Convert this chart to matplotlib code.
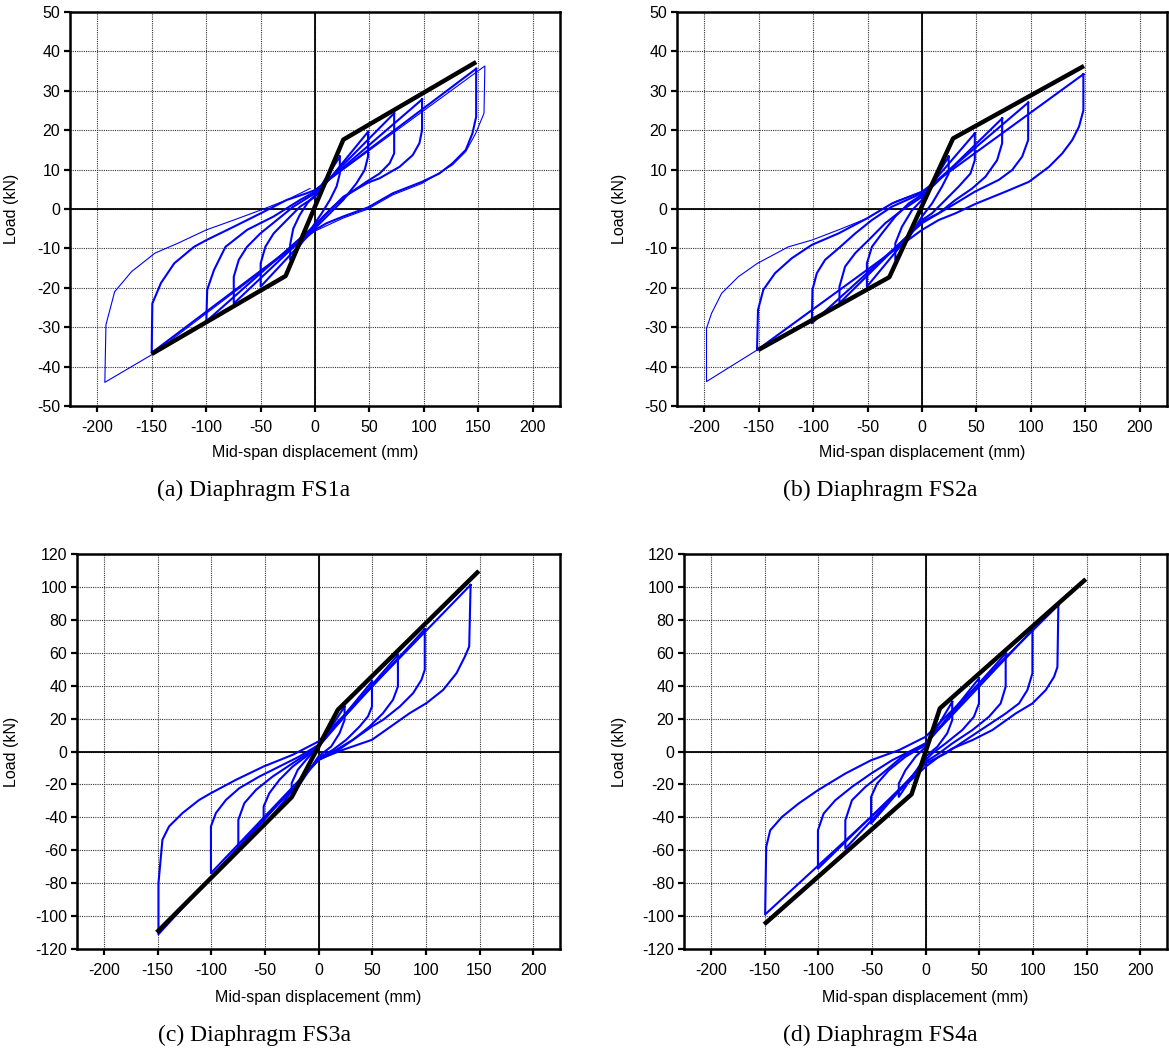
import matplotlib
matplotlib.use("Agg")
import matplotlib.pyplot as plt

plt.rcParams['font.family'] = ['Liberation Sans', 'DejaVu Sans']
plt.rcParams['axes.unicode_minus'] = False

FIG_W, FIG_H = 1169, 1054
DISP_TICKS = [-200, -150, -100, -50, 0, 50, 100, 150, 200]

# ---- (a) FS1a ----
fs1a_backbone_x = [-150, -27, 26, 148]
fs1a_backbone_y = [-36.8, -17.0, 17.6, 37.3]
fs1a_loops = [
    [(148, 35.6), (148, 23.4), (144.6, 19.2), (138.5, 15.0), (126.3, 11.6), (114.1, 9.0), (98.3, 6.9),
     (71.5, 4.0), (48.7, 0.4), (25.9, -1.9), (10.7, -3.6), (0, -5.3),
     (-150, -36.5), (-149.4, -24.0), (-141.5, -18.8), (-129.3, -13.8), (-111.1, -9.6), (-99.8, -7.9),
     (-74.6, -4.5), (-49.9, -1.1), (-25.9, 2.3), (-7.6, 4.0), (0, 4.8), (148, 35.6)],
    [(98.3, 27.8), (98.3, 20.0), (95.9, 16.7), (89.8, 13.7), (77.6, 10.7), (59.3, 7.8), (48.7, 6.7),
     (25.9, 3.1), (13.7, -0.3), (4.6, -2.8), (0, -4.1),
     (-99.8, -28.5), (-99.0, -20.5), (-92.8, -15.5), (-82.2, -9.6), (-62.4, -5.3), (-38.0, -1.9),
     (-13.7, 2.3), (0, 4.4), (98.3, 27.8)],
    [(72.7, 24.3), (72.7, 14.1), (68.5, 11.6), (59.3, 9.0), (47.2, 6.9), (32.0, 4.0), (16.7, 0.6),
     (7.6, -1.9), (0, -4.5),
     (-74.6, -24.0), (-74.6, -17.2), (-70.0, -12.9), (-62.4, -9.6), (-50.2, -6.2), (-35.0, -2.8),
     (-19.8, 0.6), (-7.6, 2.7), (0, 4.0), (72.7, 24.3)],
    [(48.7, 19.6), (48.7, 13.3), (45.6, 9.9), (38.0, 6.5), (25.9, 2.3), (13.7, -1.1), (4.6, -3.6), (0, -4.9),
     (-49.9, -19.7), (-49.9, -13.8), (-45.6, -9.6), (-38.0, -6.2), (-25.9, -2.8), (-13.7, 0.6), (0, 3.1),
     (48.7, 19.6)],
    [(22.8, 13.3), (22.8, 9.0), (19.8, 5.7), (13.7, 2.3), (6.1, -1.1), (0, -3.6),
     (-22.8, -12.9), (-22.8, -9.0), (-20.0, -5.0), (-14.0, -1.5), (-7.0, 1.5), (0, 3.5), (22.8, 13.3)],
]
fs1a_excursion = [(0, 4.8), (156, 36.3), (155.2, 24.3), (147.6, 19.2), (138.5, 14.6), (126.3, 11.2),
                  (98.3, 6.5), (71.5, 3.6), (48.7, 0.0), (25.9, -2.3), (0, -5.6), (-150, -37.0),
                  (-193, -44.0), (-192, -29.4), (-184, -21.0), (-168.5, -15.9), (-147, -11.2),
                  (-126, -8.7), (-99.8, -5.3), (-74.6, -2.8), (-50.2, -0.3), (-25.9, 2.3), (-4.6, 5.2)]

# ---- (b) FS2a ----
fs2a_backbone_x = [-150.5, -30, 28.5, 148.8]
fs2a_backbone_y = [-35.8, -17.3, 17.9, 36.3]
fs2a_loops = [
    [(148.2, 34.2), (148.2, 25.0), (144.2, 20.9), (138.0, 17.5), (128.8, 14.1), (116.6, 10.7), (98.2, 6.9),
     (76.7, 4.4), (49.1, 1.3), (30.7, -1.1), (15.3, -2.8), (0, -5.3),
     (-151.5, -35.8), (-150.6, -25.6), (-145.7, -20.5), (-135.0, -16.3), (-119.6, -12.5), (-101.2, -9.1),
     (-76.7, -6.2), (-50.6, -2.4), (-27.6, 1.4), (0, 4.4), (148.2, 34.2)],
    [(97.5, 27.0), (97.5, 17.5), (92.0, 13.3), (82.8, 9.9), (70.6, 7.4), (48.5, 4.4), (30.7, 1.4),
     (15.3, -1.1), (0, -3.6),
     (-101.2, -29.0), (-100.6, -20.5), (-96.6, -16.3), (-89.0, -12.9), (-76.7, -10.0), (-61.3, -6.2),
     (-46.0, -2.8), (-27.6, 0.6), (0, 4.0), (97.5, 27.0)],
    [(73.6, 23.0), (73.6, 16.7), (69.0, 12.4), (58.3, 8.2), (46.0, 5.2), (30.7, 2.3), (15.3, -1.1), (0, -3.2),
     (-75.8, -23.9), (-75.8, -19.7), (-70.6, -14.6), (-61.3, -11.2), (-49.1, -7.9), (-33.7, -3.6),
     (-18.4, -0.3), (0, 3.1), (73.6, 23.0)],
    [(48.5, 19.2), (48.5, 12.4), (44.5, 9.0), (33.7, 5.7), (21.5, 2.3), (9.2, -1.1), (0, -2.8),
     (-50.6, -19.7), (-50.6, -13.8), (-46.0, -9.6), (-36.8, -6.2), (-24.5, -1.9), (-12.3, 1.4), (0, 3.6),
     (48.5, 19.2)],
    [(24.5, 13.3), (24.5, 9.0), (18.4, 5.7), (9.2, 1.4), (0, -1.9),
     (-24.5, -12.9), (-24.5, -8.7), (-18.4, -4.5), (-9.2, -0.3), (0, 2.3), (24.5, 13.3)],
]
fs2a_excursion = [(-151.5, -35.8), (-197.9, -43.8), (-197.9, -30.3), (-193.3, -26.5), (-184.0, -21.4),
                  (-168.7, -17.2), (-151.2, -13.8), (-122.7, -9.6), (-101.2, -7.9), (-76.7, -5.3),
                  (-50.6, -2.4), (-24.5, 1.9), (0, 4.4)]

# ---- (c) FS3a ----
fs3a_backbone_x = [-150.7, -24.9, 18.0, 149.4]
fs3a_backbone_y = [-109.9, -27.7, 25.3, 109.7]
fs3a_loops = [
    [(141.7, 101.2), (140.4, 63.8), (136.4, 57.7), (128.6, 47.6), (116.1, 37.4), (100.6, 29.4), (85.0, 23.3),
     (49.8, 7.1), (22.7, 1.0), (7.2, -3.0), (0, -5.1),
     (-149.1, -111.0), (-149.1, -80.0), (-145.4, -53.6), (-139.2, -45.5), (-126.7, -37.4), (-111.1, -29.4),
     (-100.2, -25.3), (-76.9, -17.2), (-51.1, -9.1), (-24.0, -2.0), (0, 6.1), (141.7, 101.2)],
    [(99.0, 74.3), (99.0, 49.6), (95.9, 43.5), (88.1, 35.4), (75.7, 27.3), (60.1, 19.2), (49.8, 15.2),
     (32.1, 7.1), (16.5, 1.0), (0, -5.1),
     (-100.2, -73.9), (-100.2, -45.5), (-95.6, -37.4), (-86.2, -29.4), (-73.8, -22.3), (-55.1, -15.2),
     (-36.4, -9.1), (-17.7, -3.0), (0, 4.0), (99.0, 74.3)],
    [(74.0, 58.7), (74.0, 39.5), (69.4, 31.4), (60.1, 23.3), (47.6, 15.2), (32.1, 7.1), (16.5, 0.0), (0, -5.1),
     (-74.7, -58.7), (-74.7, -41.5), (-69.1, -31.4), (-58.2, -23.3), (-42.7, -15.2), (-24.0, -7.1), (0, 3.0),
     (74.0, 58.7)],
    [(49.8, 42.5), (49.8, 27.3), (46.1, 21.3), (38.3, 15.2), (25.8, 7.1), (13.4, 1.0), (0, -4.0),
     (-51.1, -45.5), (-51.1, -33.4), (-45.8, -25.3), (-36.4, -17.2), (-24.0, -9.1), (-11.5, -3.0), (0, 3.0),
     (49.8, 42.5)],
    [(24.3, 27.3), (24.3, 19.2), (19.6, 11.1), (11.8, 3.0), (0, -3.0),
     (-25.0, -27.3), (-25.0, -19.2), (-19.3, -11.1), (-11.5, -5.0), (0, 3.0), (24.3, 27.3)],
]

# ---- (d) FS4a ----
fs4a_backbone_x = [-150.3, -13.0, 13.4, 149.3]
fs4a_backbone_y = [-105.0, -26.0, 26.2, 104.7]
fs4a_loops = [
    [(123.8, 89.0), (122.9, 51.3), (119.8, 45.4), (112.0, 37.3), (99.6, 29.2), (84.0, 23.1), (62.2, 13.0),
     (43.6, 6.9), (24.9, 1.8), (12.4, -3.2), (0, -9.3),
     (-149.4, -99.0), (-148.4, -58.0), (-144.7, -47.9), (-133.8, -39.8), (-118.2, -31.6), (-100.2, -23.5),
     (-74.7, -13.4), (-50.7, -5.3), (-24.9, 0.8), (0, 8.9), (123.8, 89.0)],
    [(99.6, 73.8), (99.6, 47.5), (94.9, 37.3), (87.1, 29.2), (74.7, 23.1), (56.0, 15.0), (37.3, 6.9),
     (18.7, -1.2), (0, -7.3),
     (-100.2, -71.2), (-100.2, -47.9), (-94.9, -37.7), (-84.0, -29.6), (-68.5, -21.5), (-50.7, -13.4),
     (-31.1, -5.3), (0, 4.9), (99.6, 73.8)],
    [(74.7, 59.6), (74.7, 39.4), (70.0, 29.2), (59.1, 21.1), (43.6, 13.0), (24.9, 4.9), (12.4, -1.2), (0, -6.3),
     (-74.7, -59.0), (-74.7, -41.8), (-68.5, -29.6), (-56.0, -21.5), (-40.4, -13.4), (-21.8, -3.2), (0, 4.9),
     (74.7, 59.6)],
    [(49.8, 44.4), (49.8, 29.2), (45.1, 21.1), (34.2, 13.0), (18.7, 4.9), (6.2, -1.2), (0, -5.3),
     (-50.7, -43.8), (-50.7, -27.6), (-45.1, -19.5), (-34.2, -11.4), (-18.7, -3.2), (0, 3.9), (49.8, 44.4)],
    [(24.9, 30.2), (24.9, 19.1), (20.2, 11.0), (10.9, 2.8), (0, -3.2),
     (-24.9, -27.6), (-24.9, -19.5), (-18.7, -11.4), (-9.3, -3.2), (0, 2.8), (24.9, 30.2)],
]


def px_axes(fig, left, top, right, bottom):
    # axes placed by pixel box of the reference image
    return fig.add_axes([left / FIG_W, 1 - bottom / FIG_H, (right - left) / FIG_W, (bottom - top) / FIG_H])


def draw_panel(ax, loops, excursion, bb_x, bb_y, ymax, ystep, caption, cap_xy, ylab_x, xlab_y):
    ax.set_xlim(-225, 225)
    ax.set_ylim(-ymax, ymax)
    ax.set_xticks(DISP_TICKS)
    ax.set_yticks(list(range(-ymax, ymax + 1, ystep)))
    ax.grid(True, color='0.2', linestyle=(0, (1, 1)), linewidth=0.8, zorder=0)
    ax.set_axisbelow(True)
    ax.axhline(0, color='black', lw=1.3, zorder=1)
    ax.axvline(0, color='black', lw=1.3, zorder=1)

    for loop in loops:
        xs, ys = zip(*loop)
        ax.plot(xs, ys, color='#0000ff', lw=1.5, solid_joinstyle='round', zorder=2)
    if excursion:
        xs, ys = zip(*excursion)
        ax.plot(xs, ys, color='#0000ff', lw=0.8, zorder=2)

    ax.plot(bb_x, bb_y, color='black', lw=3.2, solid_capstyle='butt', zorder=3)

    for s in ax.spines.values():
        s.set_linewidth(1.8)
    ax.tick_params(direction='out', length=4, width=1.6, labelsize=11.5, pad=3)
    ax.tick_params(axis='x', pad=6)
    ax.set_xlabel('Mid-span displacement (mm)', fontsize=11.5)
    ax.set_ylabel('Load (kN)', fontsize=11.5)
    ax.xaxis.set_label_coords(0.5, xlab_y)
    ax.yaxis.set_label_coords(ylab_x, 0.5)

    fig = ax.figure
    fig.text(cap_xy[0] / FIG_W, 1 - cap_xy[1] / FIG_H, caption, family='Liberation Serif',
             fontsize=17, ha='center', va='center')


fig = plt.figure(figsize=(FIG_W / 100, FIG_H / 100), dpi=100)

ax_a = px_axes(fig, 70, 12, 560, 406)
draw_panel(ax_a, fs1a_loops, fs1a_excursion, fs1a_backbone_x, fs1a_backbone_y, 50, 10,
           '(a) Diaphragm FS1a', (254, 490), -0.104, -0.099)

ax_b = px_axes(fig, 677, 12, 1167, 406)
draw_panel(ax_b, fs2a_loops, fs2a_excursion, fs2a_backbone_x, fs2a_backbone_y, 50, 10,
           '(b) Diaphragm FS2a', (880, 490), -0.102, -0.099)

ax_c = px_axes(fig, 77, 554, 560, 949)
draw_panel(ax_c, fs3a_loops, None, fs3a_backbone_x, fs3a_backbone_y, 120, 20,
           '(c) Diaphragm FS3a', (254, 1035), -0.120, -0.104)

ax_d = px_axes(fig, 684, 554, 1167, 949)
draw_panel(ax_d, fs4a_loops, None, fs4a_backbone_x, fs4a_backbone_y, 120, 20,
           '(d) Diaphragm FS4a', (880, 1035), -0.118, -0.104)

fig.savefig('out.png', dpi=100)
